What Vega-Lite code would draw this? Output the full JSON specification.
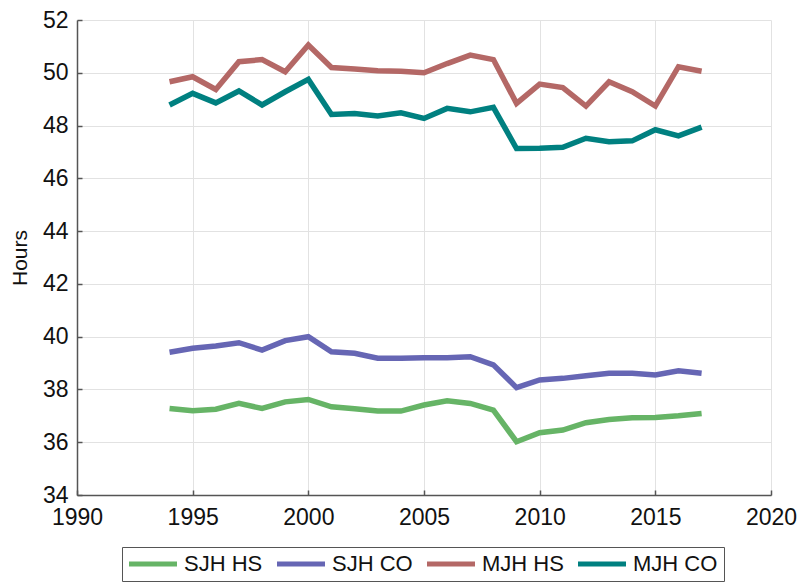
{
  "$schema": "https://vega.github.io/schema/vega-lite/v6.json",
  "width": 694,
  "height": 475,
  "autosize": {"type": "none"},
  "padding": {"left": 77, "top": 20, "right": 30, "bottom": 87},
  "background": "white",
  "config": {
    "font": "Liberation Sans",
    "view": {"stroke": null},
    "axis": {
      "labelFont": "Liberation Sans",
      "titleFont": "Liberation Sans",
      "labelFontSize": 23,
      "titleFontSize": 21,
      "titleFontWeight": "normal",
      "labelColor": "#111",
      "titleColor": "#111",
      "gridColor": "#e2e2e2",
      "gridWidth": 1,
      "domainColor": "#555",
      "domainWidth": 1.5,
      "tickColor": "#555",
      "tickSize": -5,
      "tickWidth": 1.5
    }
  },
  "data": {
    "values": [
      {"year": 1994, "series": "SJH HS", "hours": 37.28},
      {"year": 1995, "series": "SJH HS", "hours": 37.19},
      {"year": 1996, "series": "SJH HS", "hours": 37.25},
      {"year": 1997, "series": "SJH HS", "hours": 37.47},
      {"year": 1998, "series": "SJH HS", "hours": 37.28},
      {"year": 1999, "series": "SJH HS", "hours": 37.53},
      {"year": 2000, "series": "SJH HS", "hours": 37.62},
      {"year": 2001, "series": "SJH HS", "hours": 37.34},
      {"year": 2002, "series": "SJH HS", "hours": 37.27},
      {"year": 2003, "series": "SJH HS", "hours": 37.18},
      {"year": 2004, "series": "SJH HS", "hours": 37.18},
      {"year": 2005, "series": "SJH HS", "hours": 37.41},
      {"year": 2006, "series": "SJH HS", "hours": 37.57},
      {"year": 2007, "series": "SJH HS", "hours": 37.47},
      {"year": 2008, "series": "SJH HS", "hours": 37.22},
      {"year": 2009, "series": "SJH HS", "hours": 36.02},
      {"year": 2010, "series": "SJH HS", "hours": 36.36},
      {"year": 2011, "series": "SJH HS", "hours": 36.46},
      {"year": 2012, "series": "SJH HS", "hours": 36.74},
      {"year": 2013, "series": "SJH HS", "hours": 36.86},
      {"year": 2014, "series": "SJH HS", "hours": 36.93},
      {"year": 2015, "series": "SJH HS", "hours": 36.94},
      {"year": 2016, "series": "SJH HS", "hours": 37.0},
      {"year": 2017, "series": "SJH HS", "hours": 37.09},
      {"year": 1994, "series": "SJH CO", "hours": 39.41},
      {"year": 1995, "series": "SJH CO", "hours": 39.56},
      {"year": 1996, "series": "SJH CO", "hours": 39.65},
      {"year": 1997, "series": "SJH CO", "hours": 39.77},
      {"year": 1998, "series": "SJH CO", "hours": 39.49},
      {"year": 1999, "series": "SJH CO", "hours": 39.85},
      {"year": 2000, "series": "SJH CO", "hours": 40.0},
      {"year": 2001, "series": "SJH CO", "hours": 39.43},
      {"year": 2002, "series": "SJH CO", "hours": 39.37},
      {"year": 2003, "series": "SJH CO", "hours": 39.18},
      {"year": 2004, "series": "SJH CO", "hours": 39.18},
      {"year": 2005, "series": "SJH CO", "hours": 39.2},
      {"year": 2006, "series": "SJH CO", "hours": 39.2},
      {"year": 2007, "series": "SJH CO", "hours": 39.24},
      {"year": 2008, "series": "SJH CO", "hours": 38.93},
      {"year": 2009, "series": "SJH CO", "hours": 38.07},
      {"year": 2010, "series": "SJH CO", "hours": 38.36},
      {"year": 2011, "series": "SJH CO", "hours": 38.42},
      {"year": 2012, "series": "SJH CO", "hours": 38.52},
      {"year": 2013, "series": "SJH CO", "hours": 38.61},
      {"year": 2014, "series": "SJH CO", "hours": 38.61},
      {"year": 2015, "series": "SJH CO", "hours": 38.55},
      {"year": 2016, "series": "SJH CO", "hours": 38.71},
      {"year": 2017, "series": "SJH CO", "hours": 38.61},
      {"year": 1994, "series": "MJH HS", "hours": 49.66},
      {"year": 1995, "series": "MJH HS", "hours": 49.85},
      {"year": 1996, "series": "MJH HS", "hours": 49.37},
      {"year": 1997, "series": "MJH HS", "hours": 50.42},
      {"year": 1998, "series": "MJH HS", "hours": 50.5},
      {"year": 1999, "series": "MJH HS", "hours": 50.04},
      {"year": 2000, "series": "MJH HS", "hours": 51.05},
      {"year": 2001, "series": "MJH HS", "hours": 50.2},
      {"year": 2002, "series": "MJH HS", "hours": 50.14},
      {"year": 2003, "series": "MJH HS", "hours": 50.08},
      {"year": 2004, "series": "MJH HS", "hours": 50.06},
      {"year": 2005, "series": "MJH HS", "hours": 50.0},
      {"year": 2006, "series": "MJH HS", "hours": 50.35},
      {"year": 2007, "series": "MJH HS", "hours": 50.67},
      {"year": 2008, "series": "MJH HS", "hours": 50.5},
      {"year": 2009, "series": "MJH HS", "hours": 48.84},
      {"year": 2010, "series": "MJH HS", "hours": 49.57},
      {"year": 2011, "series": "MJH HS", "hours": 49.44},
      {"year": 2012, "series": "MJH HS", "hours": 48.74},
      {"year": 2013, "series": "MJH HS", "hours": 49.66},
      {"year": 2014, "series": "MJH HS", "hours": 49.28},
      {"year": 2015, "series": "MJH HS", "hours": 48.74},
      {"year": 2016, "series": "MJH HS", "hours": 50.23},
      {"year": 2017, "series": "MJH HS", "hours": 50.06},
      {"year": 1994, "series": "MJH CO", "hours": 48.78},
      {"year": 1995, "series": "MJH CO", "hours": 49.22},
      {"year": 1996, "series": "MJH CO", "hours": 48.86},
      {"year": 1997, "series": "MJH CO", "hours": 49.31},
      {"year": 1998, "series": "MJH CO", "hours": 48.78},
      {"year": 1999, "series": "MJH CO", "hours": 49.28},
      {"year": 2000, "series": "MJH CO", "hours": 49.75},
      {"year": 2001, "series": "MJH CO", "hours": 48.42},
      {"year": 2002, "series": "MJH CO", "hours": 48.46},
      {"year": 2003, "series": "MJH CO", "hours": 48.36},
      {"year": 2004, "series": "MJH CO", "hours": 48.48},
      {"year": 2005, "series": "MJH CO", "hours": 48.27},
      {"year": 2006, "series": "MJH CO", "hours": 48.65},
      {"year": 2007, "series": "MJH CO", "hours": 48.52},
      {"year": 2008, "series": "MJH CO", "hours": 48.69},
      {"year": 2009, "series": "MJH CO", "hours": 47.13},
      {"year": 2010, "series": "MJH CO", "hours": 47.14},
      {"year": 2011, "series": "MJH CO", "hours": 47.18},
      {"year": 2012, "series": "MJH CO", "hours": 47.52},
      {"year": 2013, "series": "MJH CO", "hours": 47.39},
      {"year": 2014, "series": "MJH CO", "hours": 47.42},
      {"year": 2015, "series": "MJH CO", "hours": 47.84},
      {"year": 2016, "series": "MJH CO", "hours": 47.61},
      {"year": 2017, "series": "MJH CO", "hours": 47.94}
    ]
  },
  "mark": {"type": "line", "strokeWidth": 5.5, "strokeJoin": "miter", "strokeCap": "butt"},
  "encoding": {
    "x": {
      "field": "year",
      "type": "quantitative",
      "scale": {"domain": [1990, 2020], "nice": false, "zero": false},
      "axis": {
        "title": null,
        "values": [1990, 1995, 2000, 2005, 2010, 2015, 2020],
        "format": "d",
        "labelPadding": 16,
        "labelFlush": false
      }
    },
    "y": {
      "field": "hours",
      "type": "quantitative",
      "scale": {"domain": [34, 52], "nice": false, "zero": false},
      "axis": {
        "title": "Hours",
        "values": [34, 36, 38, 40, 42, 44, 46, 48, 50, 52],
        "labelPadding": 14,
        "titlePadding": 12,
        "labelFlush": false
      }
    },
    "color": {
      "field": "series",
      "type": "nominal",
      "sort": ["SJH HS", "SJH CO", "MJH HS", "MJH CO"],
      "scale": {
        "domain": ["SJH HS", "SJH CO", "MJH HS", "MJH CO"],
        "range": ["#66b466", "#6666b4", "#b46866", "#008080"]
      },
      "legend": {
        "title": null,
        "orient": "none",
        "legendX": 45,
        "legendY": 527,
        "direction": "horizontal",
        "columns": 4,
        "symbolType": "M-6,0L6,0",
        "symbolSize": 64,
        "symbolStrokeWidth": 5,
        "symbolOffset": 14,
        "labelFont": "Liberation Sans",
        "labelFontSize": 22,
        "labelColor": "#111",
        "labelOffset": 20,
        "columnPadding": 4,
        "strokeColor": "#555",
        "fillColor": "white",
        "padding": 6,
        "labelLimit": 200
      }
    }
  }
}
